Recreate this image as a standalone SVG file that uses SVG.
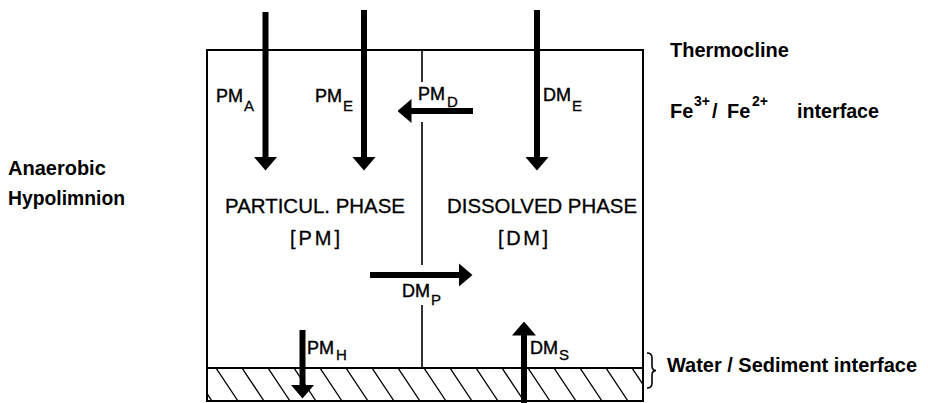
<svg xmlns="http://www.w3.org/2000/svg" width="928" height="403" viewBox="0 0 928 403">
<style>
.frame{fill:none;stroke:#000;stroke-width:2}
.thin{fill:none;stroke:#000;stroke-width:1.6}
.hatch{fill:none;stroke:#000;stroke-width:1.3}
.flux{fill:none;stroke:#000;stroke-width:6;marker-end:url(#ah)}
text{font-family:"Liberation Sans",Arial,sans-serif;fill:#000}
.lbl{font-size:18px;stroke:#000;stroke-width:0.4}
.sub{font-size:15px;stroke:#000;stroke-width:0.3}
.phase{font-size:20px;stroke:#000;stroke-width:0.3}
.side{font-size:20px;font-weight:bold}
.sup{font-size:14px;font-weight:bold}
</style>
<defs>
<marker id="ah" markerUnits="userSpaceOnUse" markerWidth="14" markerHeight="24" viewBox="0 0 14 24" refX="0.5" refY="12" orient="auto">
<path d="M0,0 L14,12 L0,24 Z" fill="#000"/>
</marker>
<clipPath id="sed"><rect x="208" y="369" width="434" height="32"/></clipPath>
</defs>
<g id="box">
<rect class="frame" x="207" y="50" width="436" height="351"/>
<line class="frame" x1="207" y1="368" x2="643" y2="368"/>
</g>
<g id="sediment" clip-path="url(#sed)">
<path class="hatch" d="M190,368 l22,33 M216,368 l22,33 M242,368 l22,33 M268,368 l22,33 M294,368 l22,33 M320,368 l22,33 M346,368 l22,33 M372,368 l22,33 M398,368 l22,33 M424,368 l22,33 M450,368 l22,33 M476,368 l22,33 M502,368 l22,33 M528,368 l22,33 M554,368 l22,33 M580,368 l22,33 M606,368 l22,33 M632,368 l22,33"/>
</g>
<g id="divider">
<path class="thin" d="M422,50 V82 M422,122 V265 M422,305 V368"/>
</g>
<g id="connectors">
<line id="PMA" class="flux" x1="265.5" y1="12" x2="265.5" y2="157"/>
<line id="PME" class="flux" x1="364" y1="10" x2="364" y2="157"/>
<line id="DME" class="flux" x1="537" y1="10" x2="537" y2="157"/>
<line id="PMD" class="flux" x1="473" y1="111" x2="411" y2="111"/>
<line id="DMP" class="flux" x1="370" y1="275" x2="459" y2="275"/>
<line id="PMH" class="flux" x1="302.5" y1="330" x2="302.5" y2="385"/>
<line id="DMS" class="flux" x1="524" y1="403" x2="524" y2="335"/>
</g>
<g id="brace">
<path class="thin" d="M647,353 Q652,353 652,358 L652,366 Q652,370.5 656,370.5 Q652,371 652,375 L652,383 Q652,388 647,388"/>
</g>
<g id="flux-labels">
<text class="lbl" x="216" y="102">PM</text>
<text class="sub" x="244" y="111">A</text>
<text class="lbl" x="315" y="102">PM</text>
<text class="sub" x="343" y="111">E</text>
<text class="lbl" x="418" y="100">PM</text>
<text class="sub" x="447" y="107">D</text>
<text class="lbl" x="543" y="101">DM</text>
<text class="sub" x="572" y="111">E</text>
<text class="lbl" x="402" y="297">DM</text>
<text class="sub" x="431" y="305">P</text>
<text class="lbl" x="307" y="354">PM</text>
<text class="sub" x="336" y="360">H</text>
<text class="lbl" x="530" y="354">DM</text>
<text class="sub" x="559" y="360">S</text>
</g>
<g id="phase-PM">
<text class="phase" x="225" y="213" textLength="180" lengthAdjust="spacingAndGlyphs">PARTICUL. PHASE</text>
<text class="phase" x="290" y="245" textLength="50" lengthAdjust="spacing">[PM]</text>
</g>
<g id="phase-DM">
<text class="phase" x="447" y="213" textLength="190" lengthAdjust="spacingAndGlyphs">DISSOLVED PHASE</text>
<text class="phase" x="498" y="245" textLength="50" lengthAdjust="spacing">[DM]</text>
</g>
<g id="side-labels">
<text class="side" x="670" y="57">Thermocline</text>
<text class="side" x="670" y="118">Fe</text>
<text class="sup" x="694" y="106">3+</text>
<text class="side" x="712" y="118">/</text>
<text class="side" x="727" y="118">Fe</text>
<text class="sup" x="752" y="106">2+</text>
<text class="side" x="797" y="118" textLength="82" lengthAdjust="spacingAndGlyphs">interface</text>
<text class="side" x="8" y="175">Anaerobic</text>
<text class="side" x="8" y="205" textLength="117" lengthAdjust="spacingAndGlyphs">Hypolimnion</text>
<text class="side" x="667" y="372" style="font-size:19.5px" textLength="250" lengthAdjust="spacingAndGlyphs">Water / Sediment interface</text>
</g>
</svg>
